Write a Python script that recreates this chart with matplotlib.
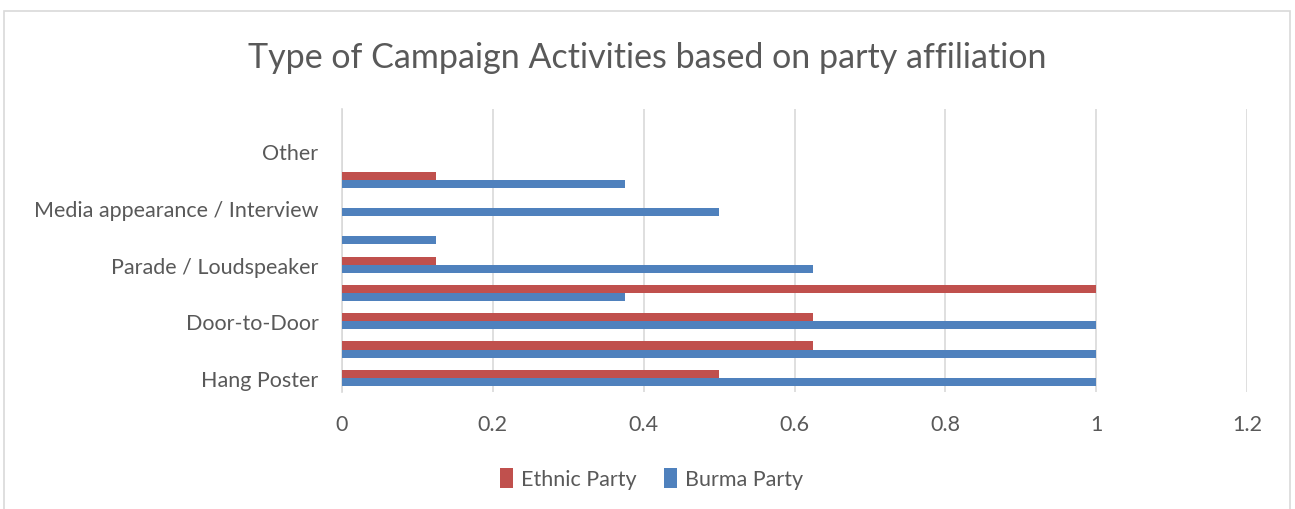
import matplotlib.pyplot as plt
import numpy as np
from matplotlib.patches import Rectangle

plt.rcParams['font.family'] = ['Lato', 'DejaVu Sans']

# categories from bottom to top; Excel skipped every other label
categories = ["Hang Poster", "", "Door-to-Door", "", "Parade / Loudspeaker",
              "", "Media appearance / Interview", "", "Other", ""]
ethnic = [0.5, 0.625, 0.625, 1.0, 0.125, 0.0, 0.0, 0.125, 0.0, 0.0]
burma = [1.0, 1.0, 1.0, 0.375, 0.625, 0.125, 0.5, 0.375, 0.0, 0.0]
xticks = [0, 0.2, 0.4, 0.6, 0.8, 1, 1.2]
xticklabels = ["0", "0.2", "0.4", "0.6", "0.8", "1", "1.2"]

red = "#C0504D"
blue = "#4F81BD"
txt = "#595959"

fig = plt.figure(figsize=(12.95, 5.10), dpi=100)
ax = fig.add_axes([0.2641, 0.2294, 0.9630 - 0.2641, 0.7843 - 0.2294])

y = np.arange(len(categories))
h = 0.285
ax.barh(y + h / 2, ethnic, height=h, color=red, label="Ethnic Party", zorder=3)
ax.barh(y - h / 2, burma, height=h, color=blue, label="Burma Party", zorder=3)

ax.set_xlim(0, 1.2)
ax.set_ylim(-0.5, len(categories) - 0.5)
ax.set_xticks(xticks)
ax.set_xticklabels(xticklabels)
ax.set_yticks(y)
ax.set_yticklabels(categories)
ax.tick_params(axis='both', length=0, labelsize=15.5, labelcolor=txt)
ax.tick_params(axis='x', pad=16)
ax.tick_params(axis='y', pad=17)
ax.grid(axis='x', color="#d9d9d9", linewidth=1.2, zorder=0)
for s in ['top', 'right', 'bottom']:
    ax.spines[s].set_visible(False)
ax.spines['left'].set_color("#d9d9d9")
ax.spines['left'].set_linewidth(1.2)

fig.text(0.5, 0.886, "Type of Campaign Activities based on party affiliation",
         ha='center', va='center', fontsize=24.5, color=txt)

leg = fig.legend(loc='center', bbox_to_anchor=(0.503, 0.06), ncol=2, frameon=False,
                 fontsize=15.5, handlelength=0.6, handleheight=1.1, handletextpad=0.35,
                 columnspacing=1.3)
for t in leg.get_texts():
    t.set_color(txt)

# outer chart border
fig.patches.append(Rectangle((0.003, -0.01), 0.993, 0.987, transform=fig.transFigure,
                             fill=False, edgecolor="#d9d9d9", linewidth=1.2))

fig.savefig("out.png", dpi=100)
